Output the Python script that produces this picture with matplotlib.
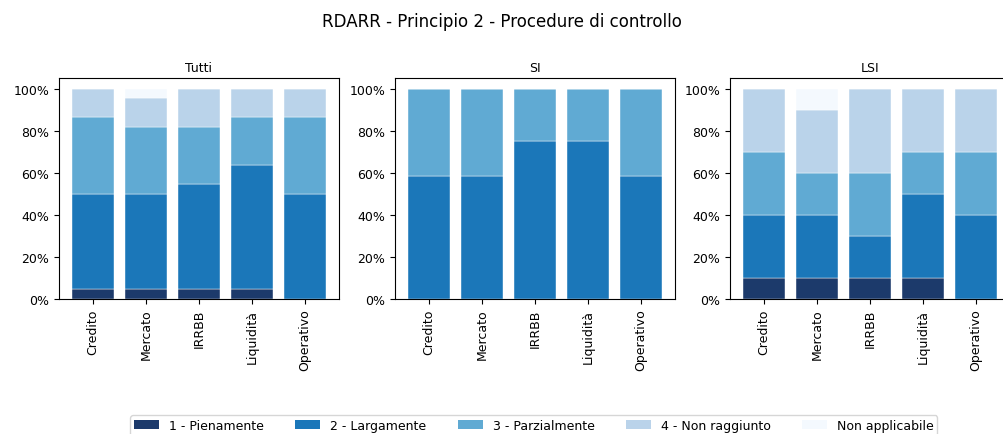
import matplotlib
matplotlib.use("Agg")
import matplotlib.pyplot as plt
from matplotlib.ticker import PercentFormatter
from matplotlib.patches import Patch
import numpy as np

categories = ["Credito", "Mercato", "IRRBB", "Liquidità", "Operativo"]
levels = ["1 - Pienamente", "2 - Largamente", "3 - Parzialmente", "4 - Non raggiunto", "Non applicabile"]
colors = ["#1c3a6b", "#1b77b9", "#60aad3", "#bad3ea", "#f4f9fe"]

tutti_pien = [4.55, 4.55, 4.55, 4.55, 0.0]
tutti_larg = [45.45, 45.45, 50.0, 59.09, 50.0]
tutti_parz = [36.36, 31.82, 27.27, 22.73, 36.36]
tutti_non = [13.64, 13.64, 18.18, 13.64, 13.64]
tutti_na = [0.0, 4.55, 0.0, 0.0, 0.0]

si_pien = [0, 0, 0, 0, 0]
si_larg = [58.33, 58.33, 75.0, 75.0, 58.33]
si_parz = [41.67, 41.67, 25.0, 25.0, 41.67]
si_non = [0, 0, 0, 0, 0]
si_na = [0, 0, 0, 0, 0]

lsi_pien = [10, 10, 10, 10, 0]
lsi_larg = [30, 30, 20, 40, 40]
lsi_parz = [30, 20, 30, 20, 30]
lsi_non = [30, 30, 40, 30, 30]
lsi_na = [0, 10, 0, 0, 0]

panels = [
    ("Tutti", [tutti_pien, tutti_larg, tutti_parz, tutti_non, tutti_na]),
    ("SI", [si_pien, si_larg, si_parz, si_non, si_na]),
    ("LSI", [lsi_pien, lsi_larg, lsi_parz, lsi_non, lsi_na]),
]

W, H = 1004, 435
fig = plt.figure(figsize=(W / 100, H / 100), dpi=100)
lefts = [59, 395, 730]
aw = 280
top, bottom = 79, 300

x = np.arange(len(categories))
for (title, series), lp in zip(panels, lefts):
    ax = fig.add_axes([lp / W, 1 - bottom / H, aw / W, (bottom - top) / H])
    base = np.zeros(len(categories))
    for vals, c in zip(series, colors):
        v = np.array(vals, dtype=float)
        ax.bar(x, v, bottom=base, width=0.8, color=c, edgecolor="white", linewidth=0.3)
        base += v
    ax.set_ylim(0, 105)
    ax.set_xticks(x)
    ax.set_xticklabels(categories, rotation=90, fontsize=9)
    ax.yaxis.set_major_formatter(PercentFormatter(100, decimals=0))
    ax.tick_params(axis="y", labelsize=9)
    ax.set_title(title, fontsize=9, pad=5)

fig.suptitle("RDARR - Principio 2 - Procedure di controllo", fontsize=12, y=1 - 22 / H, va="center")

handles = [Patch(facecolor=c, edgecolor="none") for c in colors]
fig.legend(handles, levels, loc="upper center", bbox_to_anchor=(534 / W, 1 - 416 / H),
           borderaxespad=0, borderpad=0.3, ncol=5, fontsize=9, frameon=True,
           handlelength=2, columnspacing=2.5)

fig.savefig("out.png", dpi=100)
